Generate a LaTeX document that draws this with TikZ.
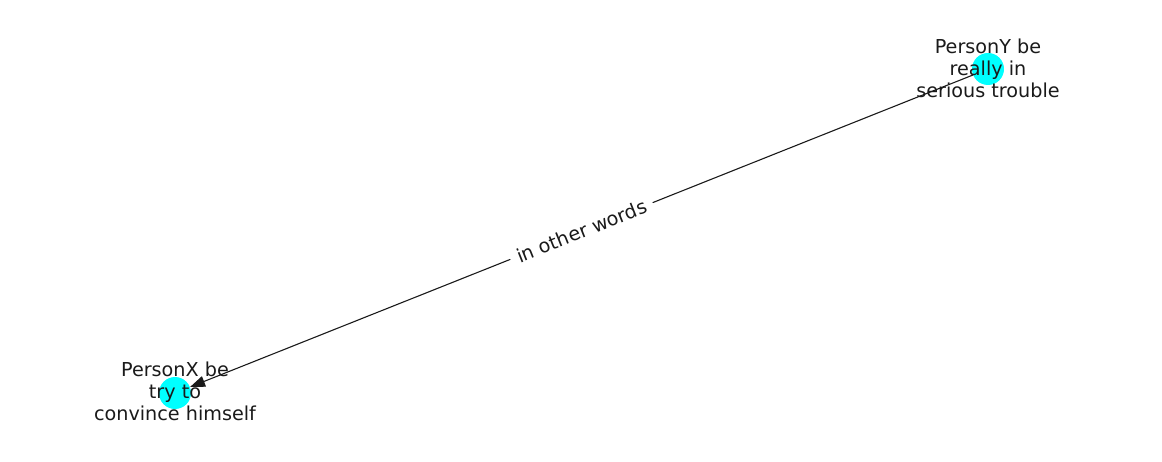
\documentclass[tikz,border=0pt]{standalone}
\usepackage{fontspec}
\setmainfont{DejaVu Sans}
\usetikzlibrary{arrows.meta}
\definecolor{nodecyan}{RGB}{0,255,255}
\definecolor{txt}{RGB}{26,26,26}
\tikzset{
  vertex/.style={circle,fill=nodecyan,draw=none,minimum size=32pt,inner sep=0pt},
  vlabel/.style={align=center,text=txt,font=\fontsize{19.2}{22}\selectfont,inner sep=0pt},
  edge/.style={draw=txt,line width=1.1pt,-{Triangle[length=15pt,width=11pt]}},
  elabel/.style={fill=white,text=txt,font=\fontsize{19.2}{22}\selectfont,inner sep=7.5pt,sloped}
}
\begin{document}
\begin{tikzpicture}[x=1pt,y=-1pt]
\useasboundingbox (0,0) rectangle (1162,462);
\node[vertex] (y) at (988,69) {};
\node[vertex] (x) at (175,393) {};
\draw[edge] (y) -- (x) node[elabel,midway] (l) {in other words};
\node[vlabel] (yl) at (988,68) {PersonY be\\really in\\serious trouble};
\node[vlabel] (xl) at (175,391) {PersonX be\\try to\\convince himself};
\end{tikzpicture}
\end{document}
